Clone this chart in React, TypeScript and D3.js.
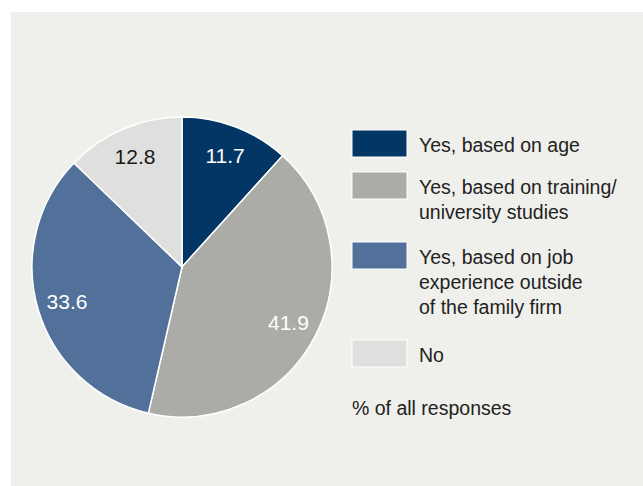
import React from "react";
import * as d3 from "d3";

const categories = [
  ["Yes, based on age"],
  ["Yes, based on training/", "university studies"],
  ["Yes, based on job", "experience outside", "of the family firm"],
  ["No"],
];
const values = [11.7, 41.9, 33.6, 12.8];
const colors = ["#023664", "#abaca7", "#51719b", "#dfe0dd"];
const labelColors = ["#ffffff", "#ffffff", "#ffffff", "#1a1a1a"];
const note = "% of all responses";

const W = 643;
const H = 486;
const cx = 182;
const cy = 267;
const R = 150;
const FONT = "'Liberation Sans', Arial, sans-serif";

export default function App() {
  const pie = d3.pie<number>().sort(null).value((d) => d)(values);
  const arc = d3.arc<d3.PieArcDatum<number>>().innerRadius(0).outerRadius(R);
  const labelArc = d3.arc<d3.PieArcDatum<number>>().innerRadius(120).outerRadius(120);

  const swatchY = [130, 172, 242, 340];
  const lineH = 25;

  return (
    <svg
      width={W}
      height={H}
      style={{ position: "absolute", left: 0, top: 0, display: "block" }}
    >
      <rect x={0} y={0} width={W} height={H} fill="#ffffff" />
      <rect x={11} y={12} width={W - 11} height={H - 12} fill="#efefeb" />
      <g transform={`translate(${cx},${cy})`}>
        {pie.map((p, i) => (
          <path key={i} d={arc(p) || ""} fill={colors[i]} stroke="#ffffff" strokeWidth={1.5} />
        ))}
        {pie.map((p, i) => {
          const [x, y] = labelArc.centroid(p);
          return (
            <text
              key={"l" + i}
              x={x}
              y={y + 7.5}
              textAnchor="middle"
              fontFamily={FONT}
              fontSize={21}
              fill={labelColors[i]}
            >
              {values[i].toFixed(1)}
            </text>
          );
        })}
      </g>
      {categories.map((lines, i) => (
        <g key={"lg" + i}>
          <rect
            x={352}
            y={swatchY[i]}
            width={55}
            height={27}
            fill={colors[i]}
            stroke="#ffffff"
            strokeWidth={1}
          />
          {lines.map((t, j) => (
            <text
              key={j}
              x={419}
              y={swatchY[i] + 22 + j * lineH}
              fontFamily={FONT}
              fontSize={19.5}
              fill="#222222"
            >
              {t}
            </text>
          ))}
        </g>
      ))}
      <text x={352} y={415} fontFamily={FONT} fontSize={19.5} fill="#222222">
        {note}
      </text>
    </svg>
  );
}
